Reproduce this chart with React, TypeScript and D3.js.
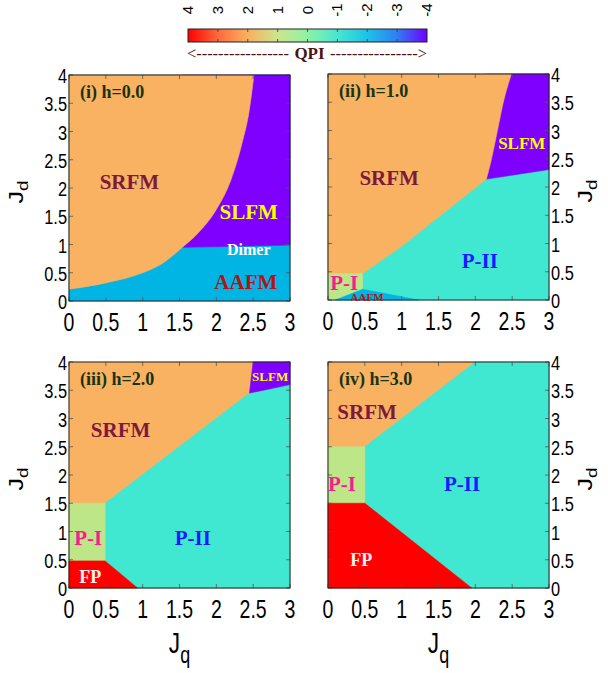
import React from 'react';
import * as d3 from 'd3';

const W = 608;
const H = 673;

// colour bar (QPI)
const qpiTicks = [4, 3, 2, 1, 0, -1, -2, -3, -4];
const qpiColors = ['#ff0000', '#fd6b3c', '#f9b060', '#cde48e', '#8ef2a6', '#48e6d0', '#1cc3e6', '#2f7ef3', '#7000ff'];

// phase colours
const phaseColor: Record<string, string> = {
  SRFM: '#f9b262',
  SLFM: '#7f00ff',
  AAFM: '#00b4e4',
  PII: '#40e8d2',
  PI: '#bde689',
  FP: '#ff0000',
};

const jqTicks = [0, 0.5, 1, 1.5, 2, 2.5, 3];
const jdTicks = [0, 0.5, 1, 1.5, 2, 2.5, 3, 3.5, 4];

type P = [number, number];
const fullBox: P[] = [[0, 0], [0, 4], [3, 4], [3, 0]];

// h = 0.0
const h0SrfmEdge: P[] = [[0, 0.21], [0.5, 0.32], [1, 0.5], [1.25, 0.65], [1.54, 0.95], [1.75, 1.2], [2, 1.62], [2.2, 2.15], [2.35, 2.8], [2.45, 3.4], [2.51, 4]];
const h0DimerLine: P[] = [[1.54, 0.95], [3, 0.99]];

// h = 1.0
const h1SrfmPiiEdge: P[] = [[0.47, 0.47], [1, 0.95], [2.15, 2.14]];
const h1SrfmSlfmEdge: P[] = [[2.15, 2.14], [2.22, 2.5], [2.3, 3], [2.38, 3.5], [2.49, 4]];
const h1SlfmPiiEdge: P[] = [[2.15, 2.14], [3, 2.31]];
const h1PiBox: P[] = [[0, 0], [0.1, 0], [0.47, 0.19], [0.47, 0.47], [0, 0.47]];
const h1AafmWedge: P[] = [[0.1, 0], [0.47, 0.19], [1.23, 0]];

// h = 2.0
const h2SrfmPiiEdge: P[] = [[0.49, 1.5], [2.45, 3.45]];
const h2SlfmCorner: P[] = [[2.45, 3.45], [2.5, 4], [3, 4], [3, 3.6]];
const h2PiBox: P[] = [[0, 0.48], [0.49, 0.48], [0.49, 1.5], [0, 1.5]];
const h2FpRegion: P[] = [[0, 0], [0.93, 0], [0.49, 0.48], [0, 0.48]];

// h = 3.0
const h3SrfmPiiEdge: P[] = [[0.5, 2.5], [2, 4]];
const h3PiBox: P[] = [[0, 1.5], [0.5, 1.5], [0.5, 2.5], [0, 2.5]];
const h3FpRegion: P[] = [[0, 0], [1.95, 0], [0.5, 1.5], [0, 1.5]];

type Part = { pts: P[]; smooth?: boolean };
type Region = { phase: string; parts: Part[] };
type Label = { text: string; at: P; color: string; size: number };

const poly = (pts: P[]): Part[] => [{ pts }];

const panels: {
  title: string;
  x: number; y: number; side: 'left' | 'right'; bottom: boolean;
  regions: Region[];
  labels: Label[];
}[] = [
  {
    title: '(i) h=0.0', x: 69, y: 75, side: 'left', bottom: false,
    regions: [
      { phase: 'AAFM', parts: poly(fullBox) },
      { phase: 'SLFM', parts: poly([...h0DimerLine, [3, 4], [1.54, 4]]) },
      { phase: 'SRFM', parts: [{ pts: h0SrfmEdge, smooth: true }, { pts: [[0, 4]] }] },
    ],
    labels: [
      { text: 'SRFM', at: [0.82, 2.12], color: '#7b1a3c', size: 21 },
      { text: 'SLFM', at: [2.44, 1.58], color: '#ffff00', size: 21 },
      { text: 'Dimer', at: [2.44, 0.92], color: '#ffffff', size: 16 },
      { text: 'AAFM', at: [2.4, 0.34], color: '#b01515', size: 21 },
    ],
  },
  {
    title: '(ii) h=1.0', x: 328, y: 74, side: 'right', bottom: false,
    regions: [
      { phase: 'PII', parts: poly(fullBox) },
      { phase: 'SLFM', parts: poly([...h1SlfmPiiEdge, [3, 4], [2.15, 4]]) },
      { phase: 'SRFM', parts: [{ pts: [[0, 0.47], ...h1SrfmPiiEdge] }, { pts: h1SrfmSlfmEdge, smooth: true }, { pts: [[0, 4]] }] },
      { phase: 'PI', parts: poly(h1PiBox) },
      { phase: 'AAFM', parts: poly(h1AafmWedge) },
    ],
    labels: [
      { text: 'SRFM', at: [0.83, 2.16], color: '#7b1a3c', size: 21 },
      { text: 'SLFM', at: [2.63, 2.78], color: '#ffff00', size: 17 },
      { text: 'P-II', at: [2.06, 0.69], color: '#1a1aff', size: 21 },
      { text: 'P-I', at: [0.22, 0.31], color: '#ff1a8c', size: 21 },
      { text: 'AAFM', at: [0.53, 0.05], color: '#b01515', size: 11 },
    ],
  },
  {
    title: '(iii) h=2.0', x: 69, y: 362, side: 'left', bottom: true,
    regions: [
      { phase: 'SRFM', parts: poly(fullBox) },
      { phase: 'PII', parts: poly([...h2SrfmPiiEdge, [3, 3.6], [3, 0], [0.93, 0], [0.49, 0.48]]) },
      { phase: 'SLFM', parts: poly(h2SlfmCorner) },
      { phase: 'PI', parts: poly(h2PiBox) },
      { phase: 'FP', parts: poly(h2FpRegion) },
    ],
    labels: [
      { text: 'SRFM', at: [0.7, 2.8], color: '#7b1a3c', size: 21 },
      { text: 'SLFM', at: [2.73, 3.74], color: '#ffff00', size: 13 },
      { text: 'P-I', at: [0.26, 0.9], color: '#ff1a8c', size: 21 },
      { text: 'P-II', at: [1.68, 0.9], color: '#1a1aff', size: 21 },
      { text: 'FP', at: [0.29, 0.2], color: '#fff0f0', size: 18 },
    ],
  },
  {
    title: '(iv) h=3.0', x: 328, y: 362, side: 'right', bottom: true,
    regions: [
      { phase: 'SRFM', parts: poly(fullBox) },
      { phase: 'PII', parts: poly([...h3SrfmPiiEdge, [3, 4], [3, 0], [1.95, 0], [0.5, 1.5]]) },
      { phase: 'PI', parts: poly(h3PiBox) },
      { phase: 'FP', parts: poly(h3FpRegion) },
    ],
    labels: [
      { text: 'SRFM', at: [0.53, 3.12], color: '#7b1a3c', size: 21 },
      { text: 'P-I', at: [0.19, 1.84], color: '#ff1a8c', size: 21 },
      { text: 'P-II', at: [1.82, 1.84], color: '#1a1aff', size: 21 },
      { text: 'FP', at: [0.45, 0.5], color: '#fff0f0', size: 18 },
    ],
  },
];

const PW = 221;
const PH = 226;
const SANS = 'Liberation Sans, Arial, sans-serif';
const SERIF = 'Liberation Serif, Times New Roman, serif';
const NARROW = 0.78;

function Panel({ p }: { p: typeof panels[number] }) {
  const x = d3.scaleLinear().domain([0, 3]).range([p.x, p.x + PW]);
  const y = d3.scaleLinear().domain([0, 4]).range([p.y + PH, p.y]);
  const straight = d3.line<P>().x(d => x(d[0])).y(d => y(d[1]));
  const smooth = d3.line<P>().x(d => x(d[0])).y(d => y(d[1])).curve(d3.curveMonotoneX);
  const regionPath = (r: Region) =>
    r.parts.map((part, i) => {
      const s = (part.smooth ? smooth : straight)(part.pts) || '';
      return i ? s.replace(/^M/, 'L') : s;
    }).join('') + 'Z';
  const x0 = p.x, x1 = p.x + PW, y0 = p.y, y1 = p.y + PH;

  return (
    <g>
      {p.regions.map((r, i) => (
        <path key={i} d={regionPath(r)} fill={phaseColor[r.phase]} stroke={phaseColor[r.phase]} strokeWidth={0.6} />
      ))}
      {/* inner tick marks */}
      {jqTicks.map(t => (
        <g key={'xt' + t} stroke="#555" strokeWidth={0.8}>
          <line x1={x(t)} x2={x(t)} y1={y1} y2={y1 - 4} />
          <line x1={x(t)} x2={x(t)} y1={y0} y2={y0 + 4} />
        </g>
      ))}
      {jdTicks.map(t => (
        <g key={'yt' + t} stroke="#555" strokeWidth={0.8}>
          <line x1={x0} x2={x0 + 4} y1={y(t)} y2={y(t)} />
          <line x1={x1} x2={x1 - 4} y1={y(t)} y2={y(t)} />
        </g>
      ))}
      <rect x={x0} y={y0} width={PW} height={PH} fill="none" stroke="#222" strokeWidth={1} />

      {/* tick labels */}
      {jqTicks.map(t => (
        <text key={'xl' + t} transform={`translate(${x(t)},${y1 + 30}) scale(${NARROW},1)`}
          textAnchor="middle" fontFamily={SANS} fontSize={25} fill="#000">{String(t)}</text>
      ))}
      {jdTicks.map(t => (
        <text key={'yl' + t}
          transform={`translate(${p.side === 'left' ? x0 - 2 : x1 + 2},${y(t) + 8}) scale(${NARROW},1)`}
          textAnchor={p.side === 'left' ? 'end' : 'start'} fontFamily={SANS} fontSize={21} fill="#000">{String(t)}</text>
      ))}

      {/* J_d axis label */}
      <text transform={`translate(${p.side === 'left' ? 23 : 592},${(y0 + y1) / 2 + 4}) scale(${NARROW},1) rotate(-90)`}
        textAnchor="middle" fontFamily={SANS} fontSize={25} fill="#000">
        J<tspan fontSize={19} dy={7}>d</tspan>
      </text>
      {p.bottom && (
        <text transform={`translate(${(x0 + x1) / 2},${653}) scale(${NARROW},1)`}
          textAnchor="middle" fontFamily={SANS} fontSize={29} fill="#000">
          J<tspan fontSize={23} dy={10}>q</tspan>
        </text>
      )}

      {/* panel title */}
      <text x={x0 + 11} y={y0 + 23} fontFamily={SERIF} fontWeight="bold" fontSize={18} fill="#17330f">{p.title}</text>

      {/* phase labels */}
      {p.labels.map((l, i) => (
        <text key={i} x={x(l.at[0])} y={y(l.at[1])} dy="0.35em" textAnchor="middle"
          fontFamily={SERIF} fontWeight="bold" fontSize={l.size} fill={l.color}>{l.text}</text>
      ))}
    </g>
  );
}

function ColorBar() {
  const cx = d3.scaleLinear().domain([4, -4]).range([188, 427]);
  const top = 29, bottom = 42;
  return (
    <g>
      <defs>
        <linearGradient id="qpiGrad" x1="0" x2="1" y1="0" y2="0">
          {qpiTicks.map((t, i) => (
            <stop key={t} offset={(cx(t) - cx(4)) / (cx(-4) - cx(4))} stopColor={qpiColors[i]} />
          ))}
        </linearGradient>
      </defs>
      <rect x={cx(4)} y={top} width={cx(-4) - cx(4)} height={bottom - top} fill="url(#qpiGrad)" stroke="#222" strokeWidth={1} />
      {qpiTicks.slice(1, -1).map(t => (
        <g key={t} stroke="#333" strokeWidth={0.8}>
          <line x1={cx(t)} x2={cx(t)} y1={top} y2={top + 3} />
          <line x1={cx(t)} x2={cx(t)} y1={bottom} y2={bottom - 3} />
        </g>
      ))}
      {qpiTicks.map(t => (
        <text key={'l' + t} transform={`translate(${cx(t) + 5},${10}) rotate(-90)`}
          textAnchor="middle" fontFamily={SANS} fontSize={15} fill="#000">{String(t)}</text>
      ))}
      <text x={187} y={59} fontFamily={SERIF} fontSize={16} fill="#4b1212" textLength={102} lengthAdjust="spacingAndGlyphs">{'<' + '-'.repeat(17)}</text>
      <text x={309.5} y={59} textAnchor="middle" fontFamily={SERIF} fontWeight="bold" fontSize={17} fill="#4b1212">QPI</text>
      <text x={330} y={59} fontFamily={SERIF} fontSize={16} fill="#4b1212" textLength={97} lengthAdjust="spacingAndGlyphs">{'-'.repeat(16) + '>'}</text>
    </g>
  );
}

export default function App() {
  return (
    <svg width={W} height={H} viewBox={`0 0 ${W} ${H}`}
      style={{ position: 'absolute', left: 0, top: 0, background: '#fff' }}>
      <rect width={W} height={H} fill="#fff" />
      <ColorBar />
      {panels.map((p, i) => <Panel key={i} p={p} />)}
    </svg>
  );
}
